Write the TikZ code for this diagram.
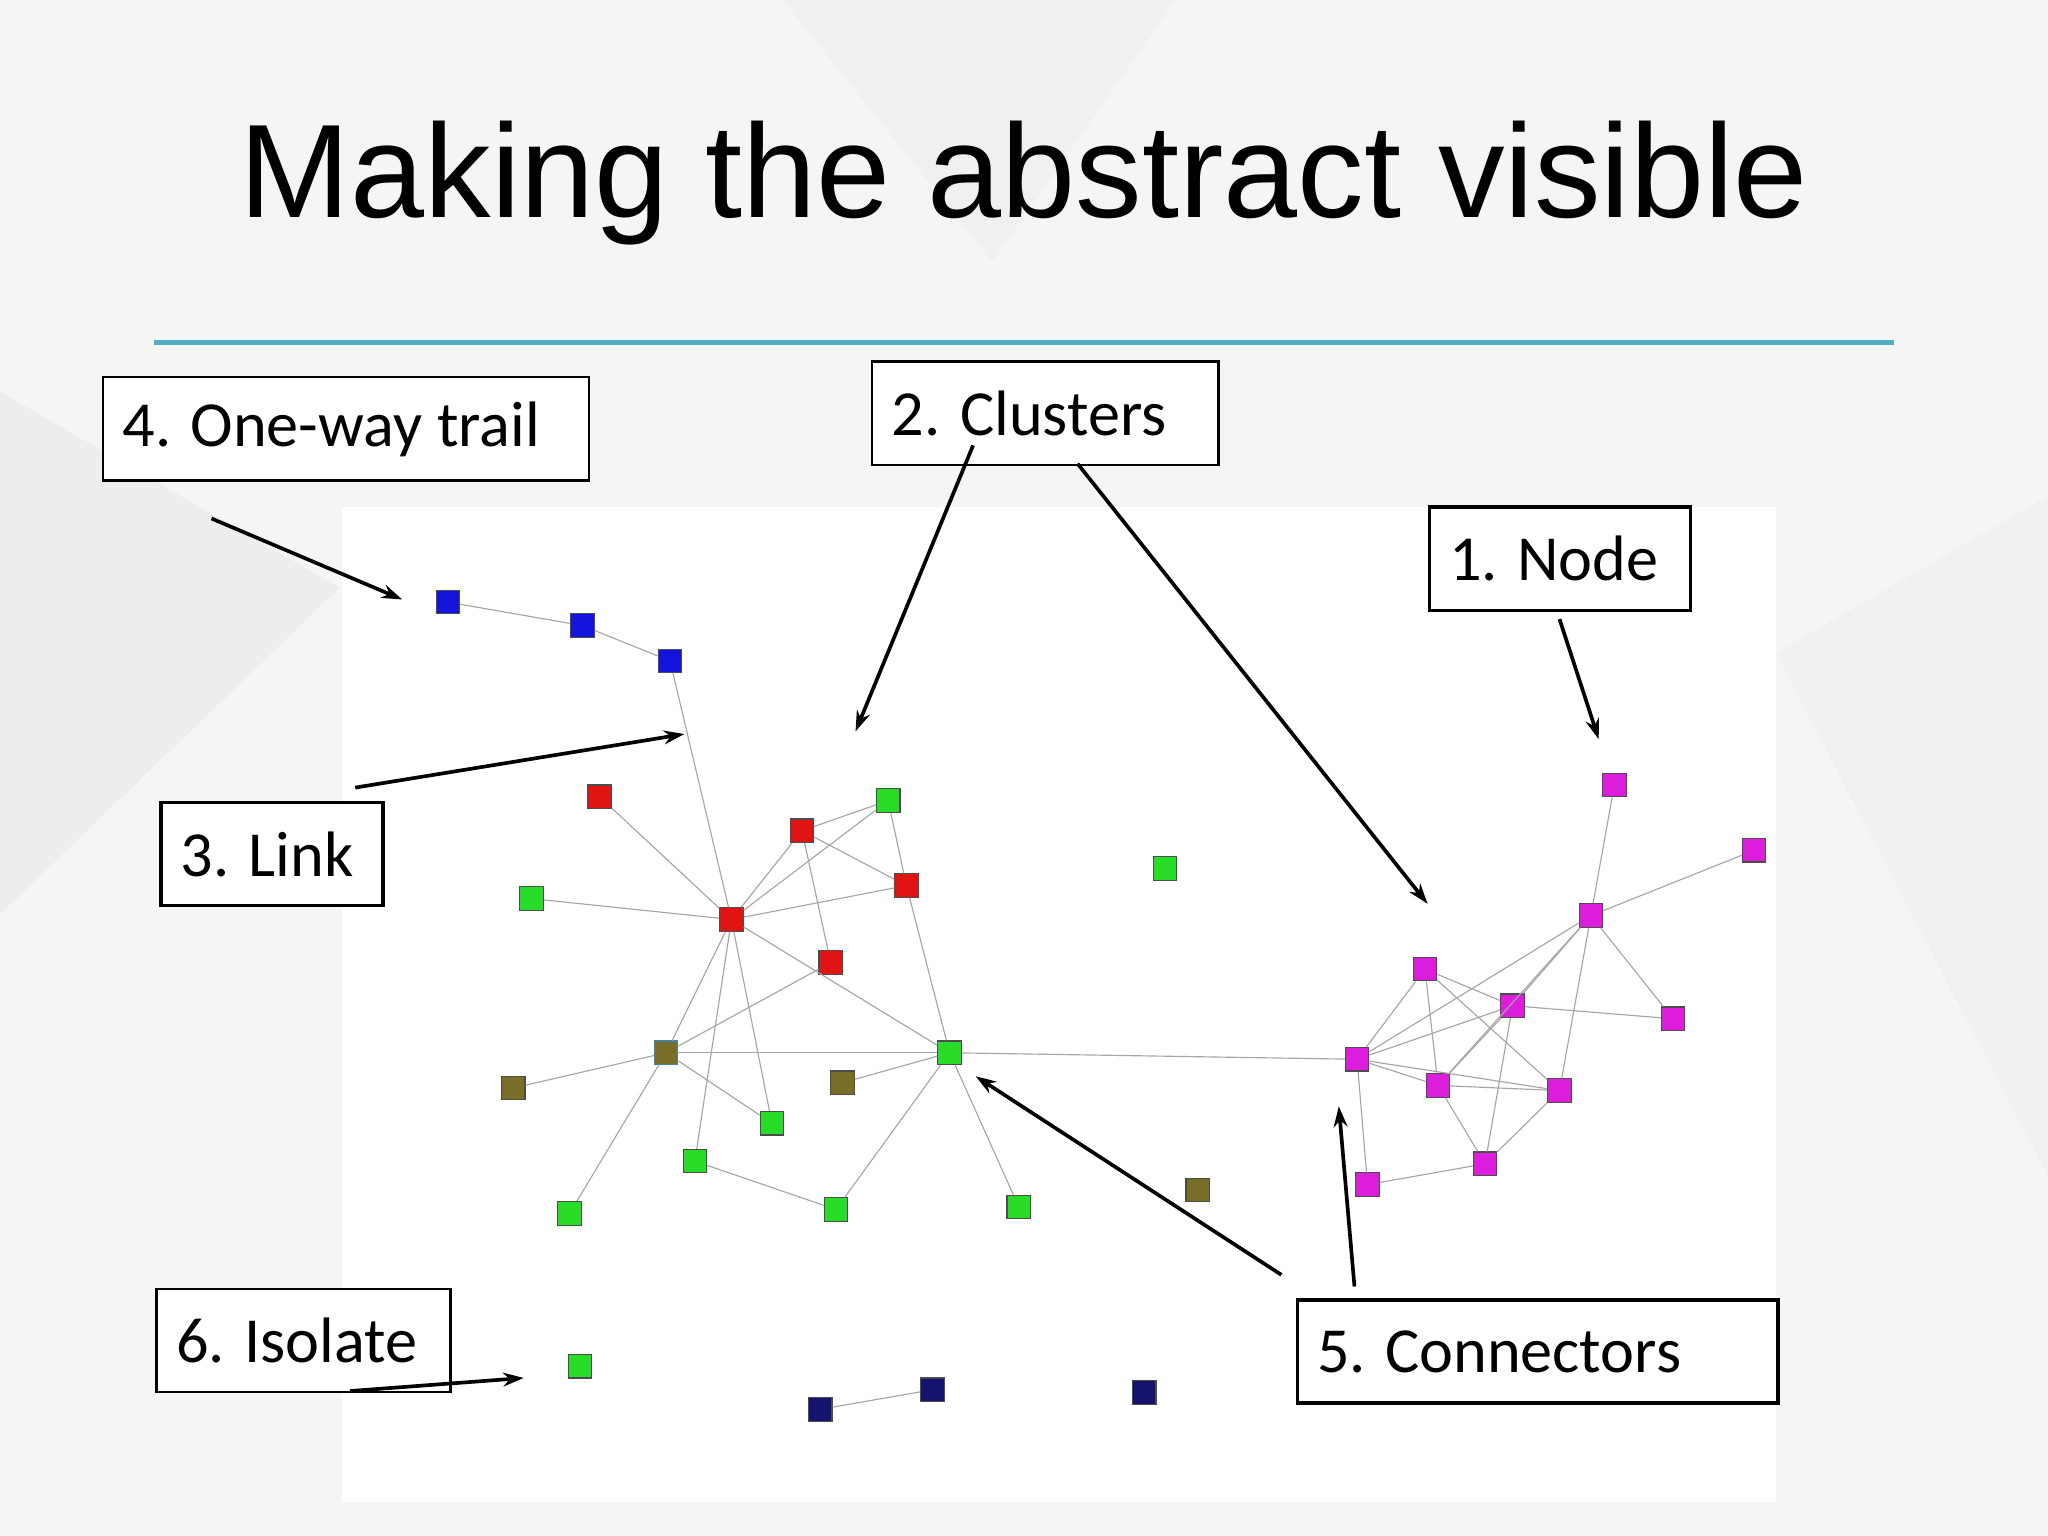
\documentclass[tikz,border=0pt]{standalone}
\usepackage{fontspec}
\setmainfont{Liberation Sans}
\newfontfamily\lab{Carlito}
\usetikzlibrary{arrows.meta}
\definecolor{mg}{RGB}{220,30,220}
\definecolor{gr}{RGB}{40,220,40}
\definecolor{bl}{RGB}{20,20,220}
\definecolor{rd}{RGB}{225,20,20}
\definecolor{ol}{RGB}{120,110,40}
\definecolor{nv}{RGB}{20,20,110}
\begin{document}
\begin{tikzpicture}[x=0.02cm,y=-0.02cm,
 sq/.style={draw=black!70,line width=0.5pt,minimum size=0.36cm,inner sep=0pt},
 lk/.style={draw=black!35,line width=0.5pt},
 box/.style={draw=black,fill=white,line width=#1,anchor=north west,inner sep=0pt,font=\lab\fontsize{28}{30}\selectfont},
 box/.default=1pt,
 ar/.style={-{Stealth[length=9pt,width=6pt]},line width=1.6pt}]
\useasboundingbox (0,0) rectangle (1568,1176);
\fill[black!4] (0,0) rectangle (1568,1176);
\fill[black!7] (0,300) -- (260,450) -- (0,700) -- cycle;
\fill[black!6] (1360,500) -- (1568,380) -- (1568,900) -- cycle;
\fill[black!6] (600,0) -- (900,0) -- (760,200) -- cycle;
\fill[white] (262,388) rectangle (1360,1150);
\node[font=\fontsize{58}{66}\selectfont] (title) at (784,140) {Making the abstract visible};
\draw[line width=2.2pt,color={rgb,255:red,80;green,175;blue,195}] (118,262) -- (1450,262);
% nodes
\foreach \n/\x/\y/\c in {b1/343/461/bl,b2/446/479/bl,b3/513/506/bl,
 r1/459/610/rd,r2/614/636/rd,r3/694/678/rd,r4/560/704/rd,r5/636/737/rd,
 g1/680/613/gr,g2/407/688/gr,g3/892/665/gr,g4/727/806/gr,g5/591/860/gr,
 g6/532/889/gr,g7/436/929/gr,g8/640/926/gr,g9/780/924/gr,g10/444/1046/gr,
 o1/393/833/ol,o2/645/829/ol,o3/917/911/ol,
 n1/628/1079/nv,n2/714/1064/nv,n3/876/1066/nv,
 m1/1236/601/mg,m2/1343/651/mg,m3/1218/701/mg,m4/1091/742/mg,m5/1158/770/mg,m6/1281/780/mg,
 m7/1039/811/mg,m8/1101/831/mg,m9/1194/835/mg,m10/1047/907/mg,m11/1137/891/mg}
 {\node[sq,fill=\c] (\n) at (\x,\y) {};}
\node[sq,fill=ol,draw=cyan!60!black] (t1) at (510,806) {};
% links
\foreach \a/\b in {b1/b2,b2/b3,b3/r4,r1/r4,g2/r4,r4/r2,r4/g1,r4/r3,r4/g4,r4/g6,r4/g5,r4/t1,r2/r3,r2/r5,g1/r3,g1/r2,r3/g4,r5/t1,
 t1/o1,t1/g4,t1/g7,t1/g5,g4/o2,g4/g8,g4/g9,g6/g8,g4/m7,n1/n2,
 m1/m3,m2/m3,m3/m7,m3/m8,m3/m5,m3/m9,m3/m6,m4/m7,m4/m8,m4/m5,m4/m9,m5/m7,m5/m8,m5/m6,m5/m11,m7/m8,m7/m10,m7/m9,m8/m11,m10/m11,m9/m11,m8/m9}
 \draw[lk] (\a) -- (\b);
% labels
\node[box] (l4) at (78,288) {\parbox[c][1.58cm]{7.44cm}{\hspace{0.3cm}4. One-way trail}};
\node[box] (l2) at (667,276) {\parbox[c][1.58cm]{5.3cm}{\hspace{0.3cm}2. Clusters}};
\node[box=1.6pt] (l1) at (1093,387) {\parbox[c][1.58cm]{4cm}{\hspace{0.3cm}1. Node}};
\node[box=1.6pt] (l3) at (122,613) {\parbox[c][1.58cm]{3.4cm}{\hspace{0.3cm}3. Link}};
\node[box] (l6) at (119,986) {\parbox[c][1.58cm]{4.5cm}{\hspace{0.3cm}6. Isolate}};
\node[box=1.6pt] (l5) at (992,994) {\parbox[c][1.58cm]{7.36cm}{\hspace{0.3cm}5. Connectors}};
% arrows
\coordinate (a4s) at (162,397); \coordinate (a4e) at (308,459);
\coordinate (a2s) at (745,341); \coordinate (a2e) at (655,560);
\coordinate (a2t) at (825,355); \coordinate (a2f) at (1093,692);
\coordinate (a1s) at (1194,474); \coordinate (a1e) at (1224,566);
\coordinate (a3s) at (272,603); \coordinate (a3e) at (524,562);
\coordinate (a5s) at (981,976); \coordinate (a5e) at (747,824);
\coordinate (a5t) at (1037,985); \coordinate (a5f) at (1025,847);
\coordinate (a6s) at (268,1065); \coordinate (a6e) at (401,1055);
\foreach \s/\e in {a4s/a4e,a2s/a2e,a2t/a2f,a1s/a1e,a3s/a3e,a5s/a5e,a5t/a5f,a6s/a6e}
 \draw[ar] (\s) -- (\e);
\end{tikzpicture}
\end{document}
